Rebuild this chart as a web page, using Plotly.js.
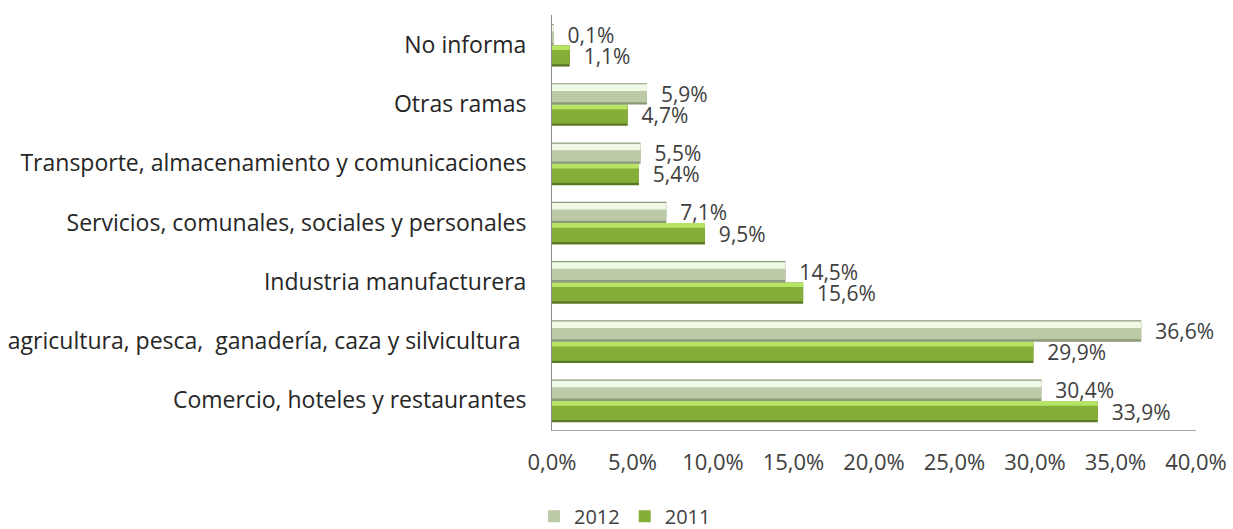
<!DOCTYPE html>
<html>
<head>
<meta charset="utf-8">
<script src="https://cdn.plot.ly/plotly-3.0.1.min.js"></script>
<style>html,body{margin:0;padding:0;background:#fff;}#chart{width:1233px;height:529px;}</style>
</head>
<body>
<div id="chart"></div>
<script>
const categories = [
  "Comercio, hoteles y restaurantes",
  "agricultura, pesca,  ganadería, caza y silvicultura ",
  "Industria manufacturera",
  "Servicios, comunales, sociales y personales",
  "Transporte, almacenamiento y comunicaciones",
  "Otras ramas",
  "No informa"
];
const values2012 = [30.4, 36.6, 14.5, 7.1, 5.5, 5.9, 0.1];
const values2011 = [33.9, 29.9, 15.6, 9.5, 5.4, 4.7, 1.1];
const seriesNames = ["2012", "2011"];
const xTicks = [0, 5, 10, 15, 20, 25, 30, 35, 40];
const xTickText = ["0,0%", "5,0%", "10,0%", "15,0%", "20,0%", "25,0%", "30,0%", "35,0%", "40,0%"];

const FONT = "'Open Sans', Lato, sans-serif";
const txtFont = {family: FONT, size: 21, color: "#404040"};

function layer(vals, name, color, width, offset, opts) {
  return Object.assign({
    type: "bar", orientation: "h", y: categories, x: vals, name: name,
    width: width, offset: offset, marker: {color: color, line: {width: 0}},
    hoverinfo: "skip", showlegend: false, legendgroup: name, cliponaxis: false
  }, opts || {});
}

const traces = [
  // 2011 (lower bar)
  layer(values2011, seriesNames[1], "#5a7825", 0.36, -0.37, {
    text: values2011, texttemplate: "\u00a0\u00a0%{x:.1f}%", textposition: "outside",
    textfont: txtFont, constraintext: "none"
  }),
  layer(values2011, seriesNames[1], "#84ae38", 0.29, -0.33, {showlegend: true}),
  layer(values2011, seriesNames[1], "#b8e466", 0.08, -0.09),
  // 2012 (upper bar)
  layer(values2012, seriesNames[0], "#8a9a7a", 0.36, -0.01, {
    text: values2012, texttemplate: "\u00a0\u00a0%{x:.1f}%", textposition: "outside",
    textfont: txtFont, constraintext: "none"
  }),
  layer(values2012, seriesNames[0], "#bccaa8", 0.29, 0.03, {showlegend: true}),
  layer(values2012, seriesNames[0], "#f0f8e6", 0.11, 0.22)
];

const layout = {
  width: 1233, height: 529,
  margin: {l: 552, r: 37, t: 15, b: 99, autoexpand: false},
  paper_bgcolor: "#fff", plot_bgcolor: "#fff",
  barmode: "overlay",
  separators: ",.",
  font: {family: FONT, size: 22, color: "#404040"},
  xaxis: {
    range: [0, 40], tickvals: xTicks, ticktext: xTickText,
    showgrid: false, zeroline: false, showline: true, linecolor: "#a6a6a6", linewidth: 1,
    ticks: "", ticklabelstandoff: 13, tickfont: {family: FONT, size: 22, color: "#404040"},
    fixedrange: true, automargin: false
  },
  yaxis: {
    type: "category", categoryorder: "array", categoryarray: categories,
    showgrid: false, zeroline: false, showline: true, linecolor: "#8c8c8c", linewidth: 1,
    ticks: "", ticklabelstandoff: 20, tickfont: {family: FONT, size: 23, color: "#262626"},
    fixedrange: true, automargin: false
  },
  showlegend: true,
  legend: {
    orientation: "h", x: -0.028, xanchor: "left", y: -0.208, yanchor: "middle",
    traceorder: "reversed", font: {family: FONT, size: 20, color: "#404040"},
    itemwidth: 30, tracegroupgap: 0
  }
};

Plotly.newPlot("chart", traces, layout, {displayModeBar: false, staticPlot: true});
</script>
</body>
</html>
